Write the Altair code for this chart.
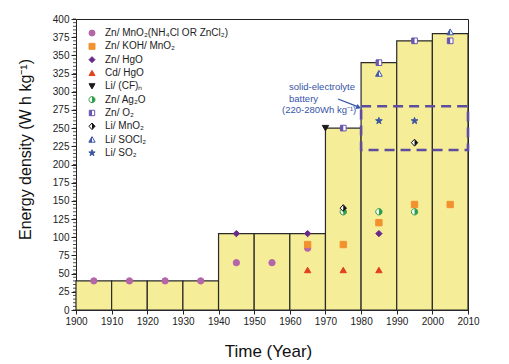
import altair as alt
import pandas as pd

# ---------------- data ----------------
bar_start = [1900, 1910, 1920, 1930, 1940, 1950, 1960, 1970, 1980, 1990, 2000]
bar_end = [1910, 1920, 1930, 1940, 1950, 1960, 1970, 1980, 1990, 2000, 2010]
bar_height = [40, 40, 40, 40, 105, 105, 105, 250, 340, 370, 380]

series_names = ["Zn/MnO2", "Zn/KOH/MnO2", "Zn/HgO", "Cd/HgO", "Li/(CF)n",
                "Zn/Ag2O", "Zn/O2", "Li/MnO2", "Li/SOCl2", "Li/SO2"]
legend_labels = ["Zn/ MnO₂(NH₄Cl OR ZnCl₂)", "Zn/ KOH/ MnO₂", "Zn/ HgO", "Cd/ HgO",
                 "Li/ (CF)ₙ", "Zn/ Ag₂O", "Zn/ O₂", "Li/ MnO₂", "Li/ SOCl₂", "Li/ SO₂"]

years_mno2 = [1905, 1915, 1925, 1935, 1945, 1955, 1965]
vals_mno2 = [40, 40, 40, 40, 65, 65, 85]
years_koh = [1965, 1975, 1985, 1995, 2005]
vals_koh = [90, 90, 120, 145, 145]
years_hgo = [1945, 1965, 1985]
vals_hgo = [105, 105, 105]
years_cdhgo = [1965, 1975, 1985]
vals_cdhgo = [55, 55, 55]
years_licf = [1970]
vals_licf = [250]
years_ag2o = [1975, 1985, 1995]
vals_ag2o = [135, 135, 135]
years_zno2 = [1975, 1985, 1995, 2005]
vals_zno2 = [250, 340, 370, 370]
years_limno2 = [1975, 1995]
vals_limno2 = [140, 230]
years_socl2 = [1985, 2005]
vals_socl2 = [325, 382]
years_so2 = [1985, 1995]
vals_so2 = [260, 260]

series_years = [years_mno2, years_koh, years_hgo, years_cdhgo, years_licf,
                years_ag2o, years_zno2, years_limno2, years_socl2, years_so2]
series_vals = [vals_mno2, vals_koh, vals_hgo, vals_cdhgo, vals_licf,
               vals_ag2o, vals_zno2, vals_limno2, vals_socl2, vals_so2]

solid_x = [1980]
solid_x2 = [2010]
solid_low = [220]
solid_high = [280]
annotation_lines = ["solid-electrolyte", "battery", "(220-280Wh kg⁻¹)"]
x_ticks = list(range(1900, 2011, 10))
y_ticks = list(range(0, 401, 25))
y_minor = list(range(0, 401, 5))

# ---------------- tables ----------------
bars = pd.DataFrame({"start": bar_start, "end": bar_end, "h": bar_height})
rows = []
for name, ys, vs in zip(series_names, series_years, series_vals):
    for yr, v in zip(ys, vs):
        rows.append({"series": name, "year": yr, "value": v})
pts = pd.DataFrame(rows)
leg = pd.DataFrame({"series": series_names, "label": legend_labels,
                    "row": list(range(len(series_names)))})
solid = pd.DataFrame({"x": solid_x, "x2": solid_x2, "lo": solid_low, "hi": solid_high})
ann_df = pd.DataFrame({"t": annotation_lines, "r": list(range(len(annotation_lines)))})
minor_df = pd.DataFrame({"v": y_minor})

# ---------------- styles ----------------
W, H = 392, 291
X0, X1, Y0, Y1 = 1900, 2010, 0, 400


def px2x(e):
    return f"{X0} + ({e}) * {(X1 - X0) / W}"


def py2y(e):
    return f"{Y1} - ({e}) * {(Y1 - Y0) / H}"


CIRCLE = ("M1,0L0.924,0.383L0.707,0.707L0.383,0.924L0,1L-0.383,0.924L-0.707,0.707L-0.924,0.383"
          "L-1,0L-0.924,-0.383L-0.707,-0.707L-0.383,-0.924L0,-1L0.383,-0.924L0.707,-0.707L0.924,-0.383Z")
HALF_CIRCLE = ("M0,-1L0.383,-0.924L0.707,-0.707L0.924,-0.383L1,0L0.924,0.383L0.707,0.707"
               "L0.383,0.924L0,1Z")
SQUARE = "M-0.9,-0.9L0.9,-0.9L0.9,0.9L-0.9,0.9Z"
HALF_SQUARE = "M-0.9,-0.9L0,-0.9L0,0.9L-0.9,0.9Z"
DIAMOND = "M0,-1.1L1,0L0,1.1L-1,0Z"
HALF_DIAMOND = "M0,-1.1L1,0L0,1.1Z"
TRI = "M0,-1L1.05,0.85L-1.05,0.85Z"
HALF_TRI = "M0,-1L0,0.85L-1.05,0.85Z"
STAR = ("M0,-1.1L0.26,-0.36L1.05,-0.34L0.42,0.14L0.65,0.89L0,0.44L-0.65,0.89L-0.42,0.14"
        "L-1.05,-0.34L-0.26,-0.36Z")

base_shapes = ["circle", "square", "diamond", "triangle-up", "triangle-down",
               CIRCLE, SQUARE, DIAMOND, TRI, STAR]
fills = ["#b566a8", "#f2922e", "#6a2a8c", "#e1411d", "#1a1a1a",
         "#ffffff", "#ffffff", "#ffffff", "#ffffff", "#3b55a0"]
strokes = ["#b566a8", "#f2922e", "#6a2a8c", "#e1411d", "#1a1a1a",
           "#2e9e48", "#6a55ae", "#111111", "#3d57a5", "#3b55a0"]
half_series = ["Zn/Ag2O", "Zn/O2", "Li/MnO2", "Li/SOCl2"]
half_paths = [HALF_CIRCLE, HALF_SQUARE, HALF_DIAMOND, HALF_TRI]
half_colors = ["#2e9e48", "#6a55ae", "#111111", "#3d57a5"]

FONT = "Liberation Sans"
xscale = alt.Scale(domain=[X0, X1], nice=False, zero=False)
yscale = alt.Scale(domain=[Y0, Y1], nice=False)

x_axis = alt.Axis(title="Time (Year)", values=x_ticks, format="d",
                  labelFontSize=10, labelFont=FONT, labelColor="#222", tickColor="#222",
                  domainColor="#222", tickSize=4, labelPadding=2, grid=False,
                  labelOverlap=False, labelFlush=False,
                  titleFont=FONT, titleFontSize=17, titleFontWeight="normal",
                  titleColor="#111", titleX=192, titleY=41, titleBaseline="middle")
y_axis = alt.Axis(title="Energy density (W h kg⁻¹)", values=y_ticks,
                  labelFontSize=10, labelFont=FONT, labelColor="#222", tickColor="#222",
                  domainColor="#222", tickSize=5, labelPadding=2, grid=False,
                  labelOverlap=False, labelFlush=False,
                  titleFont=FONT, titleFontSize=16, titleFontWeight="normal",
                  titleColor="#111", titleX=-51, titleY=130, titleAngle=270,
                  titleBaseline="middle", titleAlign="center")


def qx(f):
    return alt.X(f, type="quantitative", scale=xscale, axis=x_axis)


def qy(f):
    return alt.Y(f, type="quantitative", scale=yscale, axis=y_axis)


def point_layers(src, xf, yf, size):
    base = src.mark_point(filled=True, size=size, strokeWidth=1, opacity=1).encode(
        x=qx(xf), y=qy(yf),
        shape=alt.Shape("series:N", scale=alt.Scale(domain=series_names, range=base_shapes), legend=None),
        fill=alt.Fill("series:N", scale=alt.Scale(domain=series_names, range=fills), legend=None),
        stroke=alt.Stroke("series:N", scale=alt.Scale(domain=series_names, range=strokes), legend=None),
    )
    half = src.transform_filter(
        alt.FieldOneOfPredicate(field="series", oneOf=half_series)
    ).transform_calculate(hs="datum.series").mark_point(filled=True, size=size, strokeWidth=0, opacity=1).encode(
        x=qx(xf), y=qy(yf),
        shape=alt.Shape("hs:N", scale=alt.Scale(domain=half_series, range=half_paths), legend=None),
        fill=alt.Fill("hs:N", scale=alt.Scale(domain=half_series, range=half_colors), legend=None),
    )
    return [base, half]


bar_layer = alt.Chart(bars).mark_rect(fill="#f6ed98", stroke="#2a2a2a", strokeWidth=1.2).encode(
    x=qx("start"), x2="end:Q", y=qy("h"), y2=alt.datum(0))

minor_layer = alt.Chart(minor_df).mark_rule(color="#222", strokeWidth=0.8).encode(
    y=qy("v"), x=alt.value(0), x2=alt.value(-3))

solid_layer = alt.Chart(solid).mark_rect(filled=False, stroke="#5e4c9f", strokeWidth=2.6,
                                         strokeDash=[10, 6]).encode(
    x=qx("x"), x2="x2:Q", y=qy("lo"), y2="hi:Q")

data_pts = point_layers(alt.Chart(pts), "year", "value", 40)

leg_src = alt.Chart(leg).transform_calculate(
    ly=py2y("14 + datum.row * 13.33"), lx=px2x("16"), tx=px2x("29"))
leg_pts = point_layers(leg_src, "lx", "ly", 36)
leg_text = leg_src.mark_text(align="left", baseline="middle", fontSize=10, font=FONT,
                             color="#222").encode(x=qx("tx"), y=qy("ly"), text="label:N")

ann = alt.Chart(ann_df).transform_calculate(
    ax=px2x("213 - (datum.r == 2 ? 7 : 0)"), ay=py2y("68 + datum.r * 11.5")
).mark_text(align="left", baseline="middle", fontSize=9.5, font=FONT, color="#3654a6").encode(
    x=qx("ax"), y=qy("ay"), text="t:N")

arrow_src = alt.Chart(pd.DataFrame({"a": [0]})).transform_calculate(
    ax1=px2x("262"), ay1=py2y("80"), ax2=px2x("281"), ay2=py2y("87.3"),
    hx=px2x("282"), hy=py2y("88"))
arrow = arrow_src.mark_rule(color="#3654a6", strokeWidth=1.3).encode(
    x=qx("ax1"), x2="ax2:Q", y=qy("ay1"), y2="ay2:Q")
arrow_head = arrow_src.mark_point(shape="triangle", filled=True, size=30, color="#3654a6",
                                  angle=111, opacity=1).encode(x=qx("hx"), y=qy("hy"))

chart = alt.layer(
    bar_layer, minor_layer, solid_layer, *data_pts, *leg_pts, leg_text, arrow, arrow_head, ann
).resolve_scale(
    shape="independent", fill="independent", stroke="independent"
).properties(
    width=W, height=H,
    autosize=alt.AutoSizeParams(type="none"),
    padding={"left": 68, "top": 11, "right": 30, "bottom": 50},
).configure_view(
    stroke="#222", strokeWidth=1
)

chart.save("out.html", embed_options={"renderer": "svg", "actions": False})
